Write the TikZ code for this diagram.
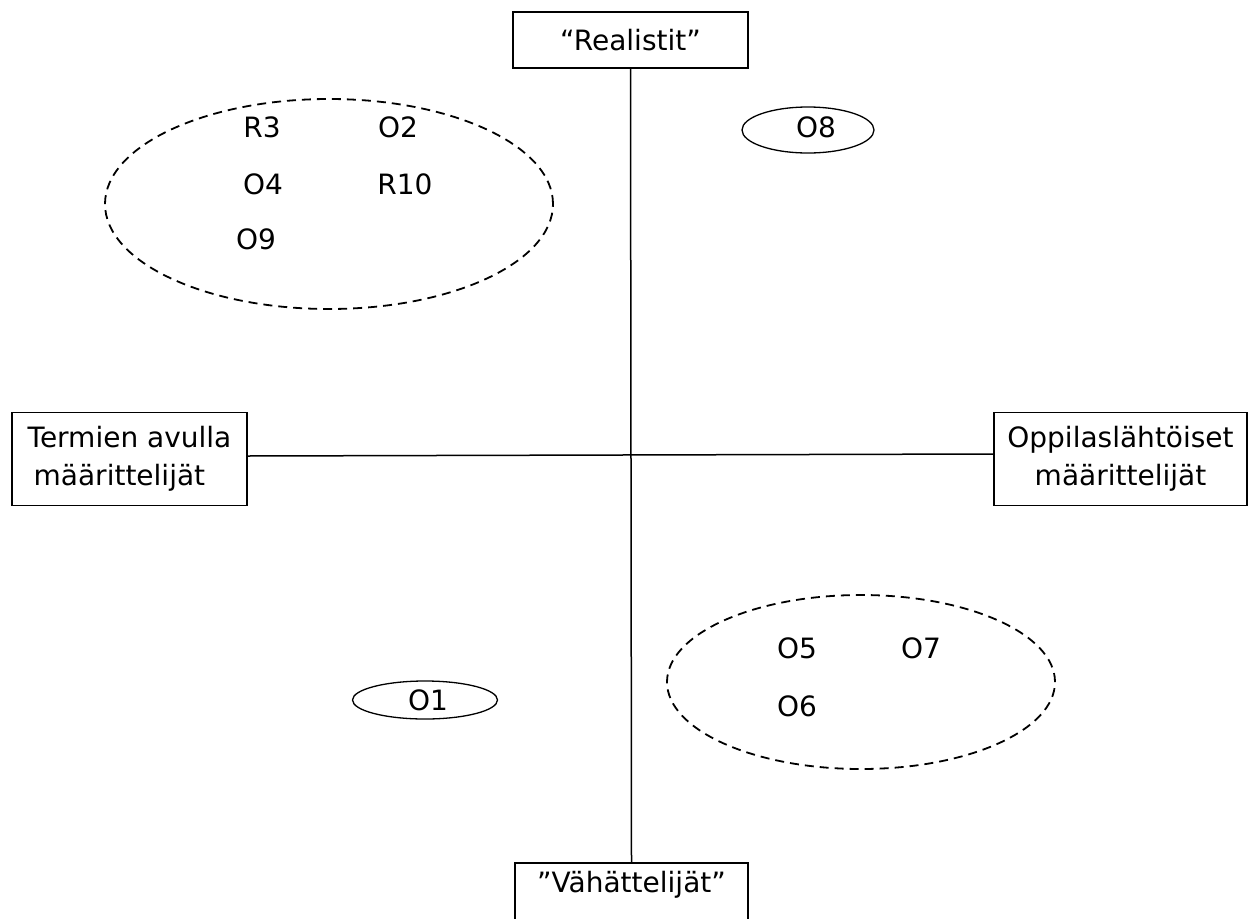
\documentclass[tikz,border=0pt]{standalone}
\usepackage{fontspec}
\setmainfont{DejaVu Sans}
\usetikzlibrary{shapes.geometric}
\begin{document}
\begin{tikzpicture}[x=1pt,y=-1pt,
  lab/.style={font=\fontsize{28}{38}\selectfont, inner sep=0pt},
  boxnode/.style={draw, line width=1.5pt, font=\fontsize{28}{38}\selectfont, inner sep=0pt},
  axis/.style={line width=1.5pt},
  group/.style={draw, dashed, line width=1.8pt, dash pattern=on 9pt off 6pt, ellipse, inner sep=0pt},
  single/.style={draw, line width=1.3pt, ellipse, inner sep=0pt}]
\useasboundingbox (0,0) rectangle (1255,918);
% boxes
\node[boxnode, minimum width=235, minimum height=56] (top) at (630.5,40) {“Realistit”};
\node[boxnode, minimum width=233, minimum height=80, anchor=north] (bot) at (631.5,862) {};
\node[lab] (bottxt) at (631.5,885) {”Vähättelijät”};
\node[boxnode, minimum width=235, minimum height=93, align=left] (left) at (129.5,459) {Termien avulla\\\hspace*{6pt}määrittelijät};
\node[boxnode, minimum width=253, minimum height=93, align=center] (right) at (1120.5,459) {Oppilaslähtöiset\\määrittelijät};
% axes
\draw[axis] (top.south) -- (bot.north);
\draw[axis] ([yshift=3pt]left.east) -- ([yshift=5pt]right.west);
% group ellipses
\node[group, minimum width=448, minimum height=210] (g1) at (329,204) {};
\node[group, minimum width=388, minimum height=174] (g2) at (861,682) {};
\node[single, minimum width=132, minimum height=46] (e8) at (808,130) {};
\node[single, minimum width=145, minimum height=38] (e1) at (425,700) {};
% labels
\node[lab] (r3) at (262,127) {R3};
\node[lab] (o2) at (398,127) {O2};
\node[lab] (o4) at (263,184) {O4};
\node[lab] (r10) at (405,184) {R10};
\node[lab] (o9) at (256,239) {O9};
\node[lab] (o5) at (797,648) {O5};
\node[lab] (o7) at (921,648) {O7};
\node[lab] (o6) at (797,706) {O6};
\node[lab] (o8) at (816,127) {O8};
\node[lab] (o1) at (428,700) {O1};
\end{tikzpicture}
\end{document}
